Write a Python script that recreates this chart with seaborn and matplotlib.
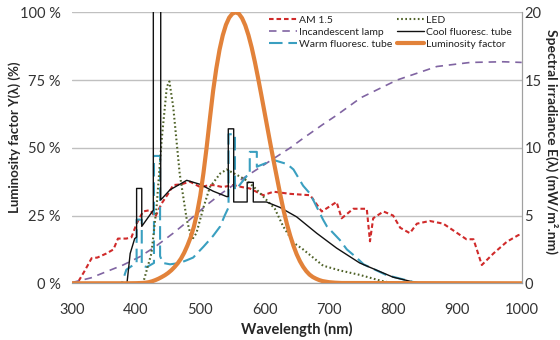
import matplotlib
matplotlib.use("Agg")
import matplotlib.pyplot as plt
import seaborn as sns
import pandas as pd

# ---------------- data (spectral irradiance in mW/m².nm, luminosity in fraction) ----------------
am15_wl = [300, 310, 320, 331, 340, 354, 365, 372, 385, 393, 401, 411, 422, 430, 440, 450, 458,
           470, 484, 500, 510, 520, 535, 551, 565, 577, 598, 614, 640, 671, 689, 712, 720, 738,
           759, 764, 769, 785, 800, 811, 826, 837, 857, 878, 914, 925, 938, 956, 977, 995, 1000]
am15 = [0.0, 0.1, 0.9, 1.85, 1.9, 2.2, 2.5, 3.3, 3.3, 3.4, 4.4, 5.3, 5.4, 4.9, 5.9, 6.6, 7.25,
        7.3, 7.5, 7.1, 7.2, 7.25, 7.1, 7.25, 7.1, 7.0, 6.5, 6.76, 6.6, 6.5, 5.3, 6.0, 4.8, 5.5,
        5.5, 3.1, 4.8, 5.3, 5.0, 4.1, 3.7, 4.4, 4.6, 4.4, 3.25, 3.25, 1.35, 2.2, 3.07, 3.56, 3.6]

inc_wl = [300, 330, 354, 380, 406, 430, 458, 485, 510, 535, 562, 588, 614, 640, 660, 690,
          712, 750, 806, 868, 920, 971, 1000]
inc = [0.05, 0.4, 0.86, 1.35, 1.96, 2.7, 3.7, 4.75, 5.78, 6.7, 7.6, 8.4, 9.2, 10.0, 10.7, 11.7,
       12.4, 13.7, 15.0, 16.0, 16.3, 16.35, 16.3]

warm_wl = [300, 378, 385, 391, 401, 401, 409, 409, 417, 428, 428, 437.5, 437.5, 442, 453,
           468, 479, 489, 505, 520, 531, 538, 544, 544, 554, 554, 557, 572, 577, 577, 588,
           588, 593, 614, 635, 645, 660, 671, 691, 697, 717, 728, 743, 754, 790, 831, 840, 1000]
warm = [0.0, 0.0, 1.0, 1.2, 1.5, 4.7, 4.7, 1.3, 1.2, 1.5, 9.4, 9.4, 2.0, 1.5, 1.4,
        1.5, 1.7, 1.9, 2.7, 3.5, 4.2, 5.0, 5.6, 11.0, 11.0, 6.9, 7.0, 7.9, 8.0, 9.7, 9.7,
        8.6, 8.7, 9.1, 8.8, 8.4, 7.2, 6.6, 4.7, 4.2, 3.2, 2.5, 1.9, 1.4, 0.6, 0.1, 0.0, 0.0]

led_wl = [300, 411, 424, 432, 440, 448, 452, 458, 468, 479, 487, 494, 505, 515, 531, 541, 557,
          572, 588, 603, 616, 629, 645, 660, 691, 717, 748, 780, 800, 1000]
led = [0.0, 0.0, 2.2, 5.6, 10.6, 14.5, 14.9, 13.0, 8.1, 4.7, 3.2, 3.7, 5.6, 7.1, 8.1, 8.4, 8.0,
       7.6, 6.9, 6.15, 5.5, 4.2, 3.0, 2.5, 1.3, 0.95, 0.62, 0.2, 0.0, 0.0]

cool_wl = [300, 386, 391, 398, 401, 401, 409, 409, 427, 427, 438.5, 438.5, 453, 479, 500, 520,
           541, 543.6, 543.6, 552, 552, 573, 573, 582.5, 582.5, 603, 624, 650, 681, 712, 748,
           800, 831, 845, 1000]
cool = [0.0, 0.0, 2.2, 3.3, 3.4, 7.0, 7.0, 4.2, 5.4, 30.0, 30.0, 6.15, 6.9, 7.6, 7.3, 6.8,
        6.4, 6.4, 11.4, 11.4, 6.0, 6.0, 7.45, 7.45, 6.0, 6.0, 5.6, 4.9, 3.7, 2.6, 1.5,
        0.45, 0.1, 0.0, 0.0]

lum_wl = [300, 380, 390, 400, 410, 415, 420, 425, 430, 435, 440, 445, 450, 455, 460, 465, 470,
          475, 480, 485, 490, 495, 500, 505, 510, 515, 520, 525, 530, 535, 540, 545, 550, 555,
          560, 565, 570, 575, 580, 585, 590, 595, 600, 605, 610, 615, 620, 625, 630, 635, 640,
          645, 650, 655, 660, 665, 670, 675, 680, 685, 690, 700, 710, 720, 1000]
lum = [0.0, 0.00004, 0.00012, 0.0004, 0.0012, 0.0022, 0.004, 0.0073, 0.0116, 0.0168, 0.023,
       0.0298, 0.038, 0.048, 0.06, 0.0739, 0.091, 0.1126, 0.139, 0.1693, 0.208, 0.2586, 0.323,
       0.4073, 0.503, 0.6082, 0.71, 0.7932, 0.862, 0.9149, 0.954, 0.9803, 0.995, 1.0, 0.995,
       0.9786, 0.952, 0.9154, 0.87, 0.8163, 0.757, 0.6949, 0.631, 0.5668, 0.503, 0.4412, 0.381,
       0.321, 0.265, 0.217, 0.175, 0.1382, 0.107, 0.0816, 0.061, 0.0446, 0.032, 0.0232, 0.017,
       0.0119, 0.0082, 0.0041, 0.0021, 0.001, 0.0]

x_ticks = [300, 400, 500, 600, 700, 800, 900, 1000]
left_ticks = [0, 0.25, 0.5, 0.75, 1.0]
left_ticklabels = ["0 %", "25 %", "50 %", "75 %", "100 %"]
right_ticks = [0, 5, 10, 15, 20]

# ---------------- style ----------------
sns.set_style("white")
FONT = ["Lato", "DejaVu Sans"]
plt.rcParams["font.family"] = FONT

fig = plt.figure(figsize=(5.6, 3.4), dpi=100)
ax = fig.add_axes([0.128, 0.1668, 0.8036, 0.797])   # luminosity (left scale, drawn on top)
ax2 = ax.twinx()                                     # spectra (right scale)
ax.set_zorder(ax2.get_zorder() + 1)
ax.patch.set_visible(False)

def frame(df_x, df_y):
    return pd.DataFrame({"wl": df_x, "v": df_y})

specs = [
    ("AM 1.5", am15_wl, am15, dict(color="#d02a2a", lw=1.5, linestyle=(0, (2.2, 1.4)))),
    ("Incandescent lamp", inc_wl, inc, dict(color="#8064a2", lw=1.2, linestyle=(0, (4.5, 3.5)))),
    ("Warm fluoresc. tube", warm_wl, warm, dict(color="#3a9fc0", lw=1.5, linestyle=(0, (6.5, 2.8)))),
    ("LED", led_wl, led, dict(color="#4f6228", lw=1.5, linestyle=(0, (0.8, 1.2)))),
    ("Cool fluoresc. tube", cool_wl, cool, dict(color="#111111", lw=1.0, linestyle="-")),
]
handles = {}
for name, xs, ys, kw in specs:
    sns.lineplot(data=frame(xs, ys), x="wl", y="v", ax=ax2, estimator=None, sort=False,
                 label=name, **kw)
    handles[name] = ax2.get_lines()[-1]

sns.lineplot(data=frame(lum_wl, lum), x="wl", y="v", ax=ax, estimator=None, sort=False,
             color="#e2823a", lw=3.0, label="Luminosity factor")
handles["Luminosity factor"] = ax.get_lines()[-1]
for a in (ax, ax2):
    if a.get_legend():
        a.get_legend().remove()

ax.set_xlim(300, 1000)
ax.set_ylim(0, 1.0)
ax2.set_ylim(0, 20)
ax.set_xticks(x_ticks)
ax.set_xticklabels([str(t) for t in x_ticks], fontsize=10.5, color="#333333")
ax.set_yticks(left_ticks)
ax.set_yticklabels(left_ticklabels, fontsize=10.5, color="#333333")
ax2.set_yticks(right_ticks)
ax2.set_yticklabels([str(t) for t in right_ticks], fontsize=10.5, color="#333333")

ax2.grid(axis="y", color="#c0c0c0", lw=1.0)
ax2.grid(axis="x", visible=False)
ax.grid(False)
ax.tick_params(axis="x", length=4, width=1, color="#a0a0a0", direction="out", pad=10)
ax.tick_params(axis="y", which="both", length=0, pad=8)
ax2.tick_params(axis="y", which="both", length=0, pad=2)

for a in (ax, ax2):
    for s in ("top", "left"):
        a.spines[s].set_visible(False)
    a.spines["right"].set_color("#a0a0a0")
    a.spines["bottom"].set_color("#a0a0a0")

ax.set_xlabel("Wavelength (nm)", fontsize=10.5, fontweight="bold", va="top")
ax.xaxis.set_label_coords(0.5, -0.143)
ax2.set_ylabel("Spectral irradiance E(λ) (mW/m².nm)", fontsize=10, fontweight="bold",
               rotation=270, va="center")
ax2.yaxis.set_label_coords(1.066, 0.525)
ax.set_ylabel("Luminosity factor Y(λ) (%)", fontsize=9.5, fontweight="bold", va="center")
ax.yaxis.set_label_coords(-0.127, 0.54)

order = ["AM 1.5", "Incandescent lamp", "Warm fluoresc. tube",
         "LED", "Cool fluoresc. tube", "Luminosity factor"]
leg = ax.legend([handles[k] for k in order], order, ncol=2, loc="upper left",
                bbox_to_anchor=(0.421, 1.02), frameon=False, fontsize=7.5,
                handlelength=2.6, handletextpad=0.2, columnspacing=0.5,
                labelspacing=0.26, borderpad=0.3)
for t in leg.get_texts():
    t.set_color("#222222")

fig.savefig("out.png", dpi=100)
